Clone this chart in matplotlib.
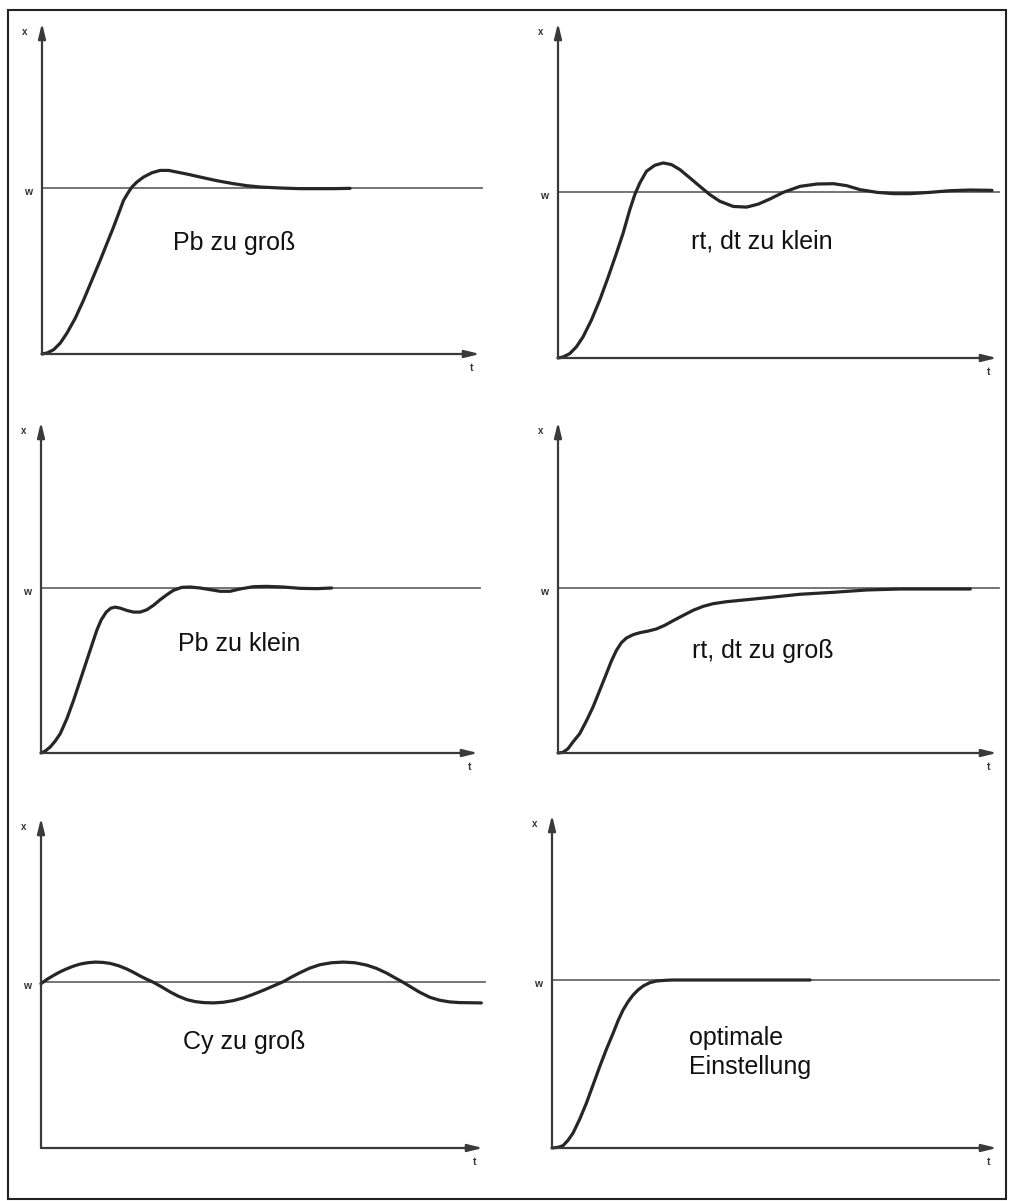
import matplotlib.pyplot as plt
from matplotlib.patches import Rectangle

plt.rcParams['font.family'] = ['Liberation Sans', 'DejaVu Sans']

W, H = 1009, 1201

# Step responses.
# t: 0..10 along the time axis, x: 0 = time axis, 1 = setpoint w
t_pb_gross = [0, 0.114, 0.266, 0.418, 0.570, 0.760, 0.951, 1.141, 1.331, 1.483, 1.635, 1.749, 1.863, 1.962,
              2.053, 2.167, 2.319, 2.510, 2.700, 2.890, 3.080, 3.308, 3.612, 3.992, 4.373, 4.677, 4.981,
              5.437, 5.894, 6.654, 7.034]
x_pb_gross = [0, 0.006, 0.026, 0.066, 0.126, 0.216, 0.326, 0.446, 0.566, 0.666, 0.766, 0.846, 0.926, 0.970,
              1.006, 1.036, 1.066, 1.092, 1.106, 1.106, 1.096, 1.084, 1.066, 1.044, 1.026, 1.014, 1.006,
              1.000, 0.996, 0.996, 0.998]

t_rt_klein = [0, 0.114, 0.266, 0.418, 0.570, 0.760, 0.951, 1.141, 1.331, 1.483, 1.635, 1.749, 1.863, 2.015,
              2.205, 2.395, 2.586, 2.776, 3.004, 3.232, 3.460, 3.688, 3.992, 4.297, 4.563, 4.829, 5.133,
              5.513, 5.894, 6.274, 6.578, 6.882, 7.262, 7.643, 8.023, 8.479, 8.935, 9.392, 9.886]
x_rt_klein = [0, 0.006, 0.026, 0.067, 0.127, 0.228, 0.349, 0.486, 0.631, 0.752, 0.893, 0.984, 1.054, 1.125,
              1.161, 1.175, 1.165, 1.135, 1.085, 1.034, 0.984, 0.944, 0.913, 0.909, 0.927, 0.958, 0.998,
              1.034, 1.048, 1.050, 1.038, 1.014, 0.998, 0.990, 0.990, 0.998, 1.008, 1.012, 1.010]

t_pb_klein = [0, 0.099, 0.213, 0.327, 0.442, 0.594, 0.746, 0.899, 1.051, 1.165, 1.280, 1.378, 1.493, 1.599,
              1.698, 1.812, 1.965, 2.117, 2.270, 2.422, 2.574, 2.727, 2.879, 3.031, 3.222, 3.412, 3.641,
              3.869, 4.098, 4.326, 4.554, 4.859, 5.164, 5.545, 5.925, 6.306, 6.649]
x_pb_klein = [0, 0.012, 0.037, 0.073, 0.118, 0.209, 0.320, 0.442, 0.564, 0.655, 0.746, 0.807, 0.854, 0.878,
              0.884, 0.878, 0.864, 0.854, 0.854, 0.868, 0.895, 0.929, 0.959, 0.986, 1.004, 1.006, 1.000,
              0.990, 0.980, 0.980, 0.994, 1.008, 1.010, 1.006, 0.998, 0.996, 1.000]

t_rt_gross = [0, 0.114, 0.228, 0.342, 0.494, 0.646, 0.798, 0.951, 1.103, 1.217, 1.331, 1.445, 1.559, 1.711,
              1.863, 2.053, 2.243, 2.433, 2.624, 2.852, 3.080, 3.308, 3.536, 3.840, 4.144, 4.753, 5.513,
              6.274, 7.034, 7.795, 8.555, 9.392]
x_rt_gross = [0, 0.004, 0.026, 0.067, 0.117, 0.194, 0.279, 0.380, 0.481, 0.558, 0.622, 0.669, 0.697, 0.717,
              0.729, 0.739, 0.752, 0.774, 0.802, 0.834, 0.865, 0.889, 0.905, 0.917, 0.925, 0.941, 0.962,
              0.974, 0.988, 0.994, 0.994, 0.994]

t_cy_gross = [0, 0.136, 0.286, 0.437, 0.587, 0.738, 0.889, 1.054, 1.227, 1.401, 1.566, 1.755, 1.943, 2.093,
              2.244, 2.395, 2.545, 2.733, 2.922, 3.110, 3.298, 3.486, 3.675, 3.901, 4.127, 4.352, 4.578,
              4.804, 5.030, 5.256, 5.482, 5.670, 5.858, 6.084, 6.310, 6.574, 6.837, 7.101, 7.364, 7.590,
              7.816, 8.004, 8.193, 8.381, 8.569, 8.795, 9.021, 9.247, 9.473, 9.962]
x_cy_gross = [0.99, 1.016, 1.040, 1.062, 1.080, 1.096, 1.108, 1.116, 1.120, 1.118, 1.112, 1.098, 1.078, 1.058,
              1.036, 1.016, 0.998, 0.970, 0.940, 0.914, 0.894, 0.882, 0.876, 0.874, 0.878, 0.888, 0.904,
              0.926, 0.950, 0.976, 1.002, 1.030, 1.056, 1.084, 1.104, 1.116, 1.120, 1.116, 1.102, 1.082,
              1.054, 1.026, 0.998, 0.968, 0.938, 0.908, 0.890, 0.880, 0.876, 0.874]

t_optimal = [0, 0.135, 0.248, 0.360, 0.473, 0.623, 0.773, 0.923, 1.073, 1.223, 1.373, 1.485, 1.598, 1.710,
             1.823, 1.935, 2.048, 2.198, 2.348, 2.536, 2.723, 5.8]
x_optimal = [0, 0.004, 0.014, 0.046, 0.089, 0.172, 0.267, 0.376, 0.485, 0.588, 0.683, 0.758, 0.822, 0.871,
             0.911, 0.941, 0.964, 0.984, 0.994, 0.998, 1.0, 1.0]

labels = ['Pb zu groß', 'rt, dt zu klein', 'Pb zu klein', 'rt, dt zu groß', 'Cy zu groß',
          'optimale\nEinstellung']
curves = [(t_pb_gross, x_pb_gross), (t_rt_klein, x_rt_klein), (t_pb_klein, x_pb_klein),
          (t_rt_gross, x_rt_gross), (t_cy_gross, x_cy_gross), (t_optimal, x_optimal)]

# panel geometry in pixels: origin x, origin y, w-line y, arrow end x, y-arrow top
panels = [(42, 354, 188, 480, 23), (558, 358, 192, 997, 23),
          (41, 753, 588, 478, 422), (558, 753, 588, 997, 422),
          (41, 1148, 982, 483, 818), (552, 1148, 980, 997, 815)]
# label anchor (t, x) and alignment
label_pos = [(4.39, 0.67, 'center'), (4.65, 0.70, 'center'), (4.53, 0.66, 'center'),
             (4.67, 0.62, 'center'), (4.59, 0.64, 'center'), (3.08, 0.57, 'left')]

fig = plt.figure(figsize=(W / 100, H / 100), dpi=100)
fig.patches.append(Rectangle((7.5 / W, 2 / H), 998.5 / W, 1189 / H, transform=fig.transFigure,
                             fill=False, lw=1.5, ec='#222222'))

for (ox, oy, wy, ex, ty), (t, x), lab, (lt, lx, ha) in zip(panels, curves, labels, label_pos):
    ytop = (oy - ty) / (oy - wy)
    ax = fig.add_axes([ox / W, (H - oy) / H, (ex - ox) / W, (oy - ty) / H])
    ax.set_xlim(0, 10)
    ax.set_ylim(0, ytop)
    ax.axis('off')

    arrow = dict(arrowstyle='-|>,head_length=0.9,head_width=0.22', lw=1.6, color='#3a3a3a',
                 shrinkA=0, shrinkB=0, mutation_scale=10)
    ax.annotate('', xy=(0, ytop), xytext=(0, 0), arrowprops=arrow, annotation_clip=False)
    ax.annotate('', xy=(10, 0), xytext=(0, 0), arrowprops=arrow, annotation_clip=False)
    ax.plot([0, 10.05], [1, 1], color='#6a6a6a', lw=1.3, clip_on=False)
    ax.plot(t, x, color='#262626', lw=2.3, clip_on=False, solid_capstyle='round',
            solid_joinstyle='round')

    ax.annotate('x', xy=(0, ytop), xytext=(-17, -9), textcoords='offset pixels',
                fontsize=7, fontweight='bold', color='#333333', ha='center', va='center')
    ax.annotate('w', xy=(0, 1), xytext=(-14, -4), textcoords='offset pixels',
                fontsize=7.5, fontweight='bold', color='#333333', ha='center', va='center')
    ax.annotate('t', xy=(10, 0), xytext=(-8, -14), textcoords='offset pixels',
                fontsize=7.5, fontweight='bold', color='#333333', ha='center', va='center')

    ax.text(lt, lx, lab, fontsize=18, ha=ha, va='center', color='#111111', linespacing=1.25)

fig.savefig('out.png', dpi=100)
